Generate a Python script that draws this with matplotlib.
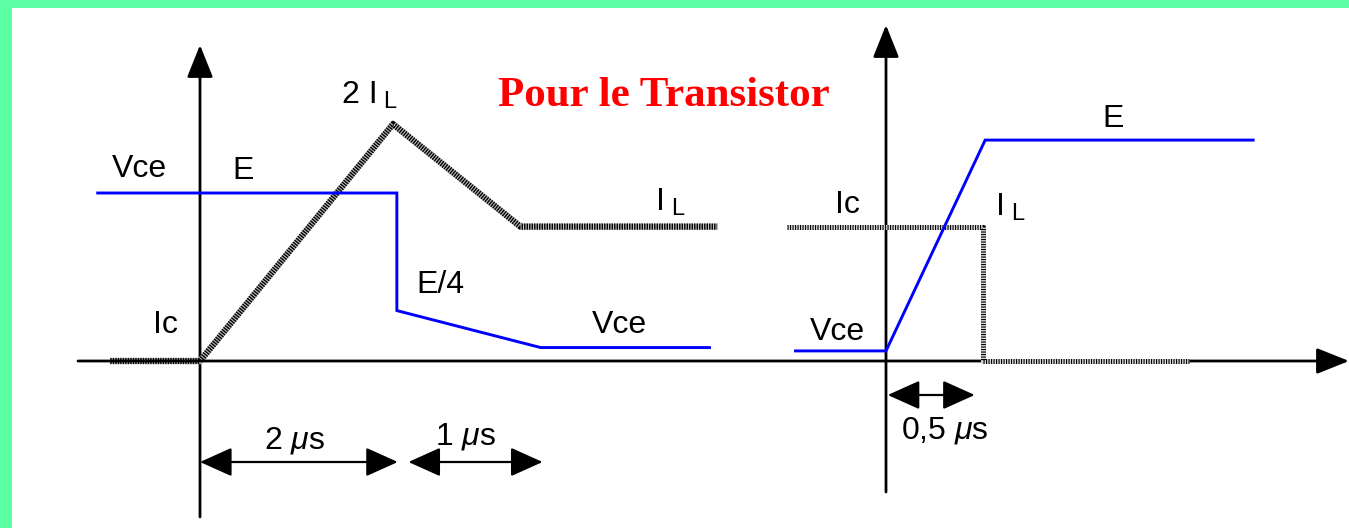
import matplotlib
matplotlib.use("Agg")
import matplotlib.pyplot as plt
from matplotlib.patches import Rectangle

W, H, DPI = 1349, 528, 100

# ---------------- data (time in µs, amplitude normalised to E) ----------------
# Left panel: turn-off
left_ic_t = [-0.93, 0.0, 2.0, 3.32, 5.36]
left_ic_v = [0.0, 0.0, 1.41, 0.80, 0.80]
left_vce_t = [-1.06, 2.04, 2.04, 3.53, 5.28]
left_vce_v = [1.0, 1.0, 0.30, 0.08, 0.08]
left_dim_start = [0.0, 2.16]
left_dim_end = [2.05, 3.55]
left_dim_labels = ["2 $\\mu$s", "1 $\\mu$s"]

# Right panel: turn-on
right_vce_t = [-0.52, 0.0, 0.57, 2.11]
right_vce_v = [0.06, 0.06, 1.315, 1.315]
right_ic_t = [-0.57, 0.56, 0.56, 1.74]
right_ic_v = [0.80, 0.80, 0.0, 0.0]
right_dim_start = [0.01]
right_dim_end = [0.51]
right_dim_labels = ["0,5 $\\mu$s"]

title = "Pour le Transistor"

# ---------------- style ----------------
plt.rcParams["mathtext.fontset"] = "custom"
plt.rcParams["mathtext.rm"] = "Liberation Sans"
plt.rcParams["mathtext.it"] = "Liberation Sans:italic"
plt.rcParams["lines.scale_dashes"] = False
FONT = "Liberation Sans"
FS = 23
SUBFS = 17
BLUE = "#0000FF"
GREEN = "#5CFFA3"

fig = plt.figure(figsize=(W / DPI, H / DPI), dpi=DPI)
fig.patch.set_facecolor("white")

# pixel geometry of the two origins / scales
LX0, RX0, Y0 = 200, 886, 361
LSX, RSX, SY = 96.5, 174.0, 168.0

axL = fig.add_axes([0, 0, 1, 1])
axL.set_xlim(-LX0 / LSX, (W - LX0) / LSX)
axL.set_ylim((Y0 - H) / SY, Y0 / SY)
axR = fig.add_axes([0, 0, 1, 1])
axR.set_xlim(-RX0 / RSX, (W - RX0) / RSX)
axR.set_ylim((Y0 - H) / SY, Y0 / SY)
for a in (axL, axR):
    a.set_facecolor("none")
    a.axis("off")

# green frame
fig.add_artist(Rectangle((0, 1 - 8 / H), 1, 8 / H, transform=fig.transFigure,
                         color=GREEN, lw=0, zorder=0))
fig.add_artist(Rectangle((0, 0), 12 / W, 1, transform=fig.transFigure,
                         color=GREEN, lw=0, zorder=0))


def arrow(ax, x0, y0, x1, y1, style="-|>", lw=2.0, hl=1.0, hw=0.4, ms=20):
    ax.annotate("", xy=(x1, y1), xytext=(x0, y0),
                arrowprops=dict(arrowstyle=f"{style},head_length={hl},head_width={hw}",
                                mutation_scale=ms, lw=lw, color="black",
                                shrinkA=0, shrinkB=0), zorder=2)


# axes (axis lines with arrows)
arrow(axR, (78 - RX0) / RSX, 0, (W - RX0) / RSX, 0)
arrow(axL, 0, (Y0 - 517) / SY, 0, (Y0 - 45) / SY)
arrow(axR, 0, (Y0 - 492) / SY, 0, (Y0 - 25) / SY)


def hatched(ax, t, v, lw, base, on, off):
    ax.plot(t, v, color=base, lw=lw, solid_capstyle="butt", solid_joinstyle="miter", zorder=3)
    ax.plot(t, v, color="black", lw=lw, linestyle=(0, (on, off)),
            dash_capstyle="butt", zorder=3)


# currents
hatched(axL, left_ic_t, left_ic_v, 4.5, "#bdbdbd", 1.0, 0.8)
hatched(axR, right_ic_t, right_ic_v, 3.6, "#d8d8d8", 0.8, 1.0)

# voltages
axL.plot(left_vce_t, left_vce_v, color=BLUE, lw=2.1, zorder=4, solid_joinstyle="miter")
axR.plot(right_vce_t, right_vce_v, color=BLUE, lw=2.1, zorder=4, solid_joinstyle="miter")

# dimension arrows
for s, e, lab in zip(left_dim_start, left_dim_end, left_dim_labels):
    arrow(axL, s, (Y0 - 462) / SY, e, (Y0 - 462) / SY, style="<|-|>", lw=1.6, hl=1.0, hw=0.45)
for s, e, lab in zip(right_dim_start, right_dim_end, right_dim_labels):
    arrow(axR, s, (Y0 - 395) / SY, e, (Y0 - 395) / SY, style="<|-|>", lw=1.6, hl=1.0, hw=0.45)


def ptext(x, y, s, size=FS, **kw):
    fig.text(x / W, 1 - y / H, s, fontsize=size, family=FONT, ha="left",
             va="baseline", **kw)


def sub_label(x, y, main, sub, xs, dy=5):
    ptext(x, y, main)
    ptext(xs, y + dy, sub, size=SUBFS)


ptext(112, 177, "Vce")
ptext(232, 179, "E")
sub_label(342, 103, "2 I", "L", 383)
sub_label(656, 210, "I", "L", 671)
ptext(416, 293, "E/4")
ptext(592, 333, "Vce")
ptext(153, 333, "Ic")
ptext(264, 449, left_dim_labels[0])
ptext(435, 444, left_dim_labels[1])

ptext(1102, 127, "E")
ptext(835, 213, "Ic")
sub_label(996, 215, "I", "L", 1011)
ptext(810, 340, "Vce")
ptext(901, 438, right_dim_labels[0])

fig.text(498 / W, 1 - 106 / H, title, fontsize=31, family="Liberation Serif",
         weight="bold", color="#FF0000", ha="left", va="baseline")

fig.savefig("out.png", dpi=DPI)
